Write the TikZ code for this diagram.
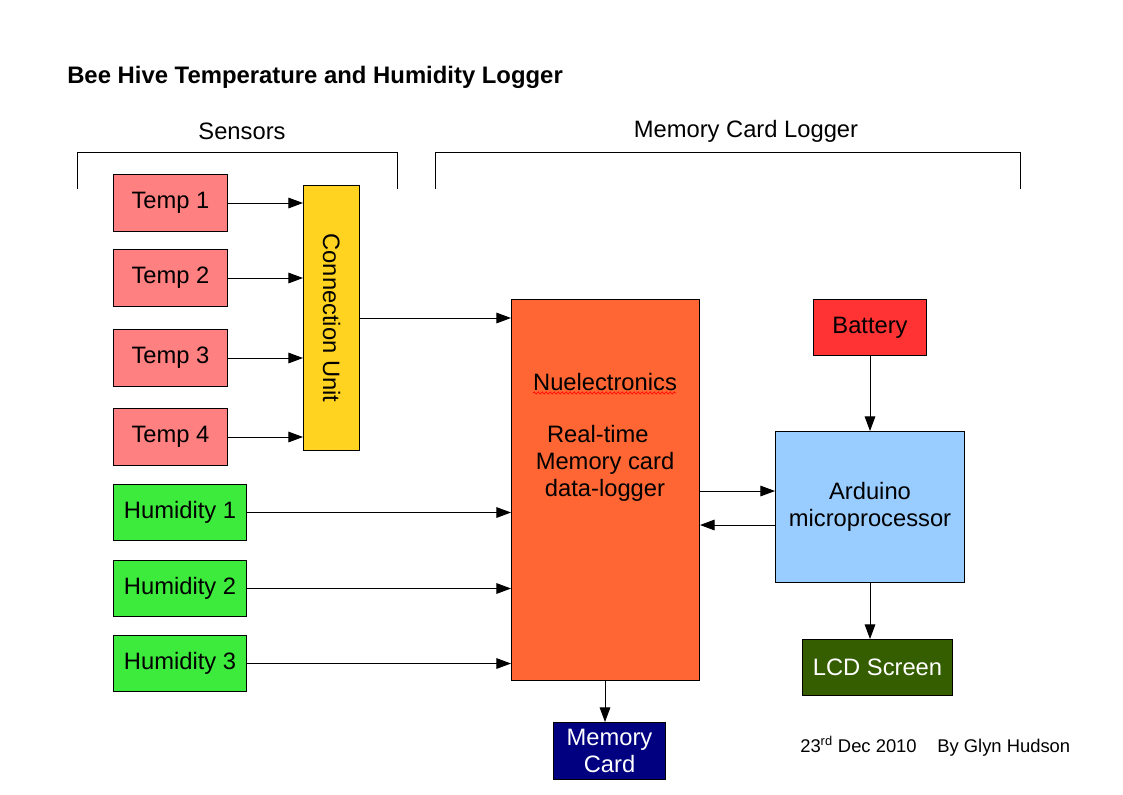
\documentclass[tikz,border=0pt]{standalone}
\usepackage{fontspec}
\setmainfont{Liberation Sans}
\usetikzlibrary{arrows.meta,decorations.pathmorphing}
\definecolor{tempc}{HTML}{FF8080}
\definecolor{humc}{HTML}{3DEB3D}
\definecolor{cuc}{HTML}{FFD320}
\definecolor{mainc}{HTML}{FF6633}
\definecolor{batc}{HTML}{FF3333}
\definecolor{ardc}{HTML}{99CCFF}
\definecolor{lcdc}{HTML}{355E00}
\definecolor{memc}{HTML}{000080}
\begin{document}
\begin{tikzpicture}[x=0.75pt,y=-0.75pt,
  box/.style={draw=black,line width=0.75pt,inner sep=0pt,anchor=north west,font=\fontsize{17.8}{20.25}\selectfont,align=center},
  arr/.style={line width=0.75pt,-{Triangle[length=11pt,width=8pt]}},
  brk/.style={line width=0.75pt},
  lbl/.style={font=\fontsize{17.8}{20.25}\selectfont,align=center,inner sep=0pt}]
\useasboundingbox[fill=white] (0,0) rectangle (1123,794);
% title
\node[anchor=base west,inner sep=0pt,font=\fontsize{17.9}{20}\selectfont\bfseries] (title) at (67,83) {Bee Hive Temperature and Humidity Logger};
% brackets
\node[lbl] (senslbl) at (242,131) {Sensors};
\node[lbl] (mcllbl) at (746,131) {Memory Card Logger};
\draw[brk] (77,189) -- (77,152) -- (397,152) -- (397,189);
\draw[brk] (435,189) -- (435,152) -- (1020,152) -- (1020,189);
% temp sensors
\node[box,fill=tempc,minimum width=114*0.75pt,minimum height=57*0.75pt] (t1) at (113,174) {Temp 1};
\node[box,fill=tempc,minimum width=114*0.75pt,minimum height=57*0.75pt] (t2) at (113,249) {Temp 2};
\node[box,fill=tempc,minimum width=114*0.75pt,minimum height=57*0.75pt] (t3) at (113,329) {Temp 3};
\node[box,fill=tempc,minimum width=114*0.75pt,minimum height=57*0.75pt] (t4) at (113,408) {Temp 4};
% connection unit
\node[box,fill=cuc,minimum width=56*0.75pt,minimum height=265*0.75pt] (cu) at (303,185) {};
\node[lbl,rotate=-90] (cutext) at (cu.center) {Connection Unit};
% humidity sensors
\node[box,fill=humc,minimum width=133*0.75pt,minimum height=56*0.75pt] (h1) at (113,484) {Humidity 1};
\node[box,fill=humc,minimum width=133*0.75pt,minimum height=56*0.75pt] (h2) at (113,560) {Humidity 2};
\node[box,fill=humc,minimum width=133*0.75pt,minimum height=56*0.75pt] (h3) at (113,635) {Humidity 3};
% main logger
\node[box,fill=mainc,minimum width=188*0.75pt,minimum height=381*0.75pt] (main) at (511,299) {};
\node[lbl] (nue) at (605,382) {Nuelectronics};
\draw[red,line width=0.5pt,decorate,decoration={snake,amplitude=0.8pt,segment length=3pt}] (533,393) -- (676,393);
\node[lbl] (rt) at (605,463) {Real-time\hspace*{0.6em}\\Memory card\\data-logger};
% battery, arduino, lcd, memory card
\node[box,fill=batc,minimum width=113*0.75pt,minimum height=56*0.75pt] (bat) at (813,299) {Battery};
\node[box,fill=ardc,minimum width=189*0.75pt,minimum height=151*0.75pt] (ard) at (775,431) {Arduino\\microprocessor};
\node[box,fill=lcdc,text=white,minimum width=150*0.75pt,minimum height=56*0.75pt] (lcd) at (802,639) {LCD Screen};
\node[box,fill=memc,text=white,minimum width=112*0.75pt,minimum height=57*0.75pt] (mem) at (553,722) {Memory\\Card};
% arrows temp -> cu
\draw[arr] (t1.east) -- (t1.east -| cu.west);
\draw[arr] (t2.east) -- (t2.east -| cu.west);
\draw[arr] (t3.east) -- (t3.east -| cu.west);
\draw[arr] (t4.east) -- (t4.east -| cu.west);
% cu -> main
\draw[arr] (cu.east |- 0,318) coordinate (cuo) -- (cuo -| main.west);
% humidity -> main
\draw[arr] (h1.east) -- (h1.east -| main.west);
\draw[arr] (h2.east) -- (h2.east -| main.west);
\draw[arr] (h3.east) -- (h3.east -| main.west);
% main <-> arduino
\draw[arr] (main.east |- 0,491) coordinate (m1) -- (m1 -| ard.west);
\draw[arr] (ard.west |- 0,525) coordinate (a1) -- (a1 -| main.east);
% battery -> arduino
\draw[arr] (bat.south -| 870,0) coordinate (b1) -- (b1 |- ard.north);
% arduino -> lcd
\draw[arr] (ard.south -| 870,0) coordinate (l1) -- (l1 |- lcd.north);
% main -> memory card
\draw[arr] (main.south -| 605,0) coordinate (mc) -- (mc |- mem.north);
% footer
\node[anchor=base west,inner sep=0pt,font=\fontsize{13.8}{16}\selectfont] (date) at (800,752) {23\textsuperscript{rd} Dec 2010};
\node[anchor=base west,inner sep=0pt,font=\fontsize{13.8}{16}\selectfont] (author) at (937,752) {By Glyn Hudson};
\end{tikzpicture}
\end{document}
